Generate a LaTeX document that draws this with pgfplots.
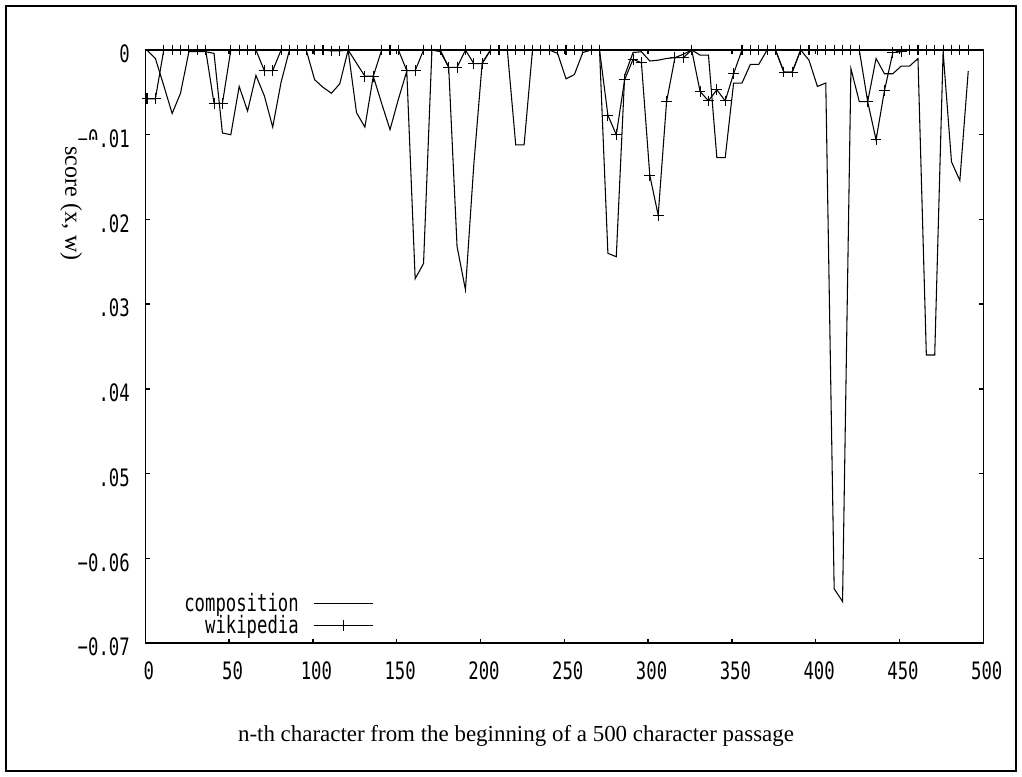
\documentclass[border=0pt]{standalone}
\usepackage{pgfplots}
\usepackage{pgfplotstable}
\pgfplotsset{compat=1.18}
\usepackage{fontspec}
\setmainfont{Liberation Serif}
\newfontfamily\gfont[FakeStretch=0.72]{DejaVu Sans Mono}
\newcommand\gsize{\fontsize{18}{20}\selectfont}

\pgfplotstableread{
x y
1 0
6 -0.0010
11 -0.0042
16 -0.0075
21 -0.0051
26 -0.0002
31 -0.0002
36 -0.0002
41 -0.0004
46 -0.0098
51 -0.0100
56 -0.0043
61 -0.0072
66 -0.0030
71 -0.0054
76 -0.0091
81 -0.0038
86 0
91 0
96 0
101 -0.0035
106 -0.0044
111 -0.0051
116 -0.0040
121 0
126 -0.0074
131 -0.0091
136 -0.0031
141 -0.0063
146 -0.0094
151 -0.0058
156 -0.0025
161 -0.0270
166 -0.0252
171 0
176 -0.0002
181 -0.0020
186 -0.0232
191 -0.0283
196 -0.0135
201 -0.0015
206 0
211 0
216 0
221 -0.0112
226 -0.0112
231 0
236 0
241 0
246 -0.0004
251 -0.0034
256 -0.0029
261 -0.0003
266 0
271 0
276 -0.0240
281 -0.0244
286 -0.0030
291 -0.0003
296 -0.0002
301 -0.0013
306 -0.0012
311 -0.0010
316 -0.0009
321 -0.0005
326 0
331 -0.0006
336 -0.0006
341 -0.0127
346 -0.0127
351 -0.0039
356 -0.0039
361 -0.0017
366 -0.0017
371 0
376 0
381 -0.0026
386 -0.0026
391 0
396 -0.0012
401 -0.0043
406 -0.0039
411 -0.0636
416 -0.0651
421 -0.0022
426 -0.0061
431 -0.0061
436 -0.0010
441 -0.0028
446 -0.0028
451 -0.0019
456 -0.0019
461 -0.0010
466 -0.0360
471 -0.0360
476 -0.0002
481 -0.0132
486 -0.0154
491 -0.0025
}\comp

\pgfplotstableread{
x y
1 -0.00575
6 -0.00575
11 0
16 0
21 0
26 0
31 0
36 0
41 -0.0063
46 -0.0063
51 0
56 0
61 0
66 0
71 -0.00244
76 -0.00244
81 0
86 0
91 0
96 0
101 0
106 0
111 -0.0001
116 -0.0001
121 0
131 -0.0031
136 -0.0031
141 0
146 0
151 0
156 -0.00244
161 -0.00244
166 0
171 0
176 0
181 -0.00205
186 -0.00205
191 0
196 -0.0016
201 -0.0016
206 0
211 0
216 0
221 0
226 0
231 0
236 0
241 0
246 0
251 0
256 0
261 0
266 0
271 0
276 -0.0077
281 -0.0100
286 -0.0035
291 -0.0011
296 -0.0015
301 -0.0148
306 -0.0195
311 -0.0061
316 -0.0009
321 -0.0009
326 0
331 -0.0049
336 -0.0060
341 -0.0047
346 -0.0060
351 -0.0028
356 0
361 0
366 0
371 0
376 0
381 -0.0026
386 -0.0026
391 0
396 0
401 0
406 0
411 0
416 0
421 0
426 0
431 -0.0061
436 -0.0106
441 -0.0048
446 -0.0003
451 -0.0002
456 0
461 0
466 0
471 0
476 0
481 0
486 0
491 0
}\wiki

\begin{document}
\begin{tikzpicture}
\useasboundingbox (-109pt,-99.75pt) rectangle (657.5pt,482.25pt);
\begin{axis}[
  name=ax, at={(0pt,0pt)}, anchor=south west,
  scale only axis, width=628.5pt, height=444.75pt,
  xmin=0, xmax=500, ymin=-0.07, ymax=0,
  axis line style={line width=1pt},
  every tick/.style={line width=1pt, black},
  major tick length=3.2pt,
  tick align=inside,
  xtick={0,50,100,150,200,250,300,350,400,450,500},
  xticklabels={0,50,100,150,200,250,300,350,400,450,500},
  ytick={-0.07,-0.06,-0.05,-0.04,-0.03,-0.02,-0.01,0},
  yticklabels={−0.07,−0.06,−0.05,−0.04,−0.03,−0.02,−0.01,0},
  scaled y ticks=false,
  ticklabel style={font=\gfont\gsize},
  xticklabel style={anchor=north, inner sep=0pt, yshift=-14pt, xshift=2.6pt},
  yticklabel style={anchor=east, inner sep=0pt, xshift=-11.5pt, yshift=-3pt},
  legend plot pos=right,
  legend cell align=right,
  legend image code/.code={\draw[mark repeat=2,mark phase=2,#1] plot coordinates {(0pt,0pt) (22.25pt,0pt) (44.5pt,0pt)};},
  legend style={draw=none, fill=none, font=\gfont\gsize, at={(0.273,0.012)}, anchor=south east,
    inner sep=0pt, nodes={inner sep=0pt}, row sep=1.2pt, column sep=11pt},
]
\addplot[black, line width=0.8pt] table {\comp};
\addlegendentry{composition}
\addplot[black, line width=0.8pt, mark=+, mark size=4pt, mark options={line width=0.8pt}] table {\wiki};
\addlegendentry{wikipedia}
\end{axis}
\fill[white] (-65.5pt,99.75pt) rectangle (-34pt,377.25pt);
\node[rotate=-90, font=\fontsize{18}{20}\selectfont] at (-55.7pt,329.6pt) {score (x, w)};
\node[anchor=base, font=\fontsize{17.2}{19}\selectfont] at (278pt,-73.9pt) {n-th character from the beginning of a 500 character passage};
\draw[line width=1.5pt] (-104.5pt,-96pt) rectangle (653pt,477.75pt);
\end{tikzpicture}
\end{document}
